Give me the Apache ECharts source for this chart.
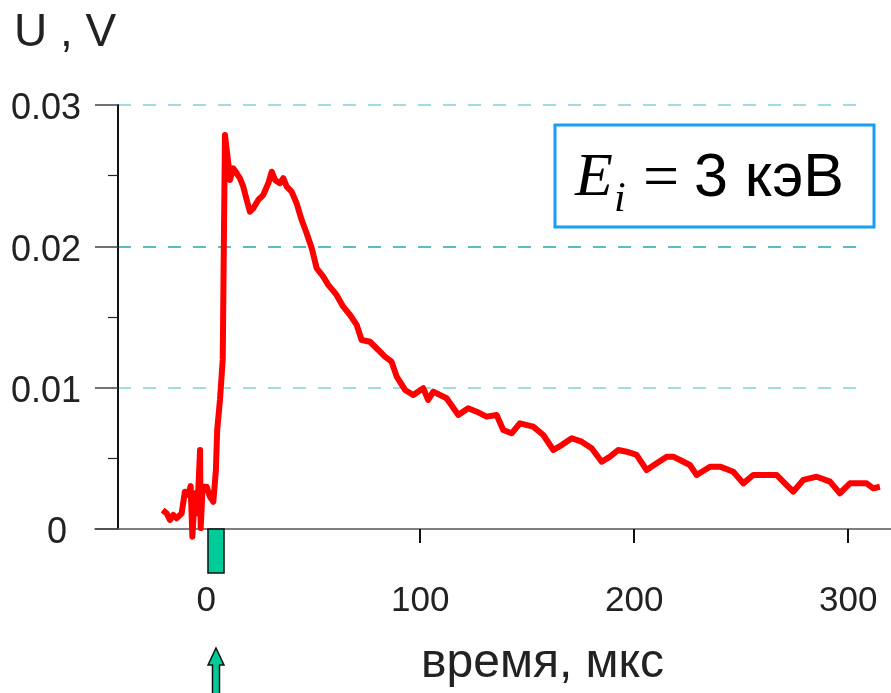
<!DOCTYPE html>
<html><head><meta charset="utf-8">
<script src="https://cdn.jsdelivr.net/npm/echarts@6/dist/echarts.min.js"></script>
<style>html,body{margin:0;padding:0;background:#fff}#c{width:891px;height:693px}</style>
</head><body><div id="c"></div>
<script>
// time, microseconds
const timeUs = [-20.4,-18.5,-17.0,-15.4,-13.8,-11.5,-10.0,-8.4,-7.3,-6.5,-5.3,-4.2,-2.9,-2.6,-1.7,0.2,1.7,3.3,4.5,5.1,6.4,7.7,8.2,8.74,10.3,11.1,12.6,14.2,15.7,17.3,18.9,20.4,22.0,24.3,26.6,29.0,30.6,32.1,34.4,36.0,37.6,39.9,42.2,44.6,46.9,49.3,51.6,54.7,57.0,60.9,64.0,67.2,70.3,72.6,76.5,79.6,83.5,86.6,89.0,92.9,96.7,101.4,103.7,106.1,112.3,117.8,122.4,126.4,131.0,135.7,138.8,142.7,146.6,152.8,157.5,162.2,166.1,170.8,175.4,180.1,184.8,188.7,192.5,196.5,201.1,205.8,210.5,215.2,218.2,221.4,226.0,229.2,235.4,240.1,246.3,251.0,255.6,260.3,266.6,270.4,274.3,279.0,285.3,291.5,296.1,300.8,308.6,311.7,314.8];
// signal, volts
const voltageV = [0.00134,0.00111,0.00064,0.00099,0.00076,0.00111,0.00264,0.00241,0.00304,-0.00054,0.00253,0.00111,0.00559,0.00007,0.00299,0.00299,0.00229,0.00193,0.00417,0.0070,0.00913,0.0120,0.0200,0.02788,0.02588,0.0247,0.02552,0.02517,0.02482,0.02422,0.02328,0.02245,0.02269,0.02328,0.02363,0.02446,0.02528,0.0247,0.02446,0.02482,0.02422,0.02387,0.02305,0.02186,0.02092,0.01986,0.01845,0.01785,0.01727,0.01656,0.01573,0.01514,0.01444,0.01337,0.01325,0.01279,0.01219,0.01184,0.01078,0.00984,0.00948,0.00996,0.00913,0.00972,0.00925,0.00807,0.00854,0.0083,0.00795,0.00807,0.0070,0.00677,0.00748,0.00724,0.00665,0.00559,0.00594,0.00642,0.00618,0.00571,0.00476,0.00512,0.00559,0.00547,0.00524,0.00417,0.00465,0.00512,0.00512,0.00488,0.00453,0.00382,0.00441,0.00441,0.00405,0.00323,0.00382,0.00382,0.00382,0.00323,0.00264,0.00347,0.0037,0.00335,0.00253,0.00323,0.00323,0.00288,0.00299];
const xTickLabels = [0, 100, 200, 300];
const xTickMarks = [100, 200, 300];
const yTickLabels = [0, 0.01, 0.02, 0.03];
const pulseUs = [0.8, 8.3];
const yTitle = 'U , V';
const xTitle = 'время, мкс';
const boxSymbol = 'E';
const boxSub = 'i';
const boxEq = '=';
const boxValue = '3 кэВ';

const SANS = "'Liberation Sans', Arial, sans-serif";
const SERIF = "'Liberation Serif', 'Times New Roman', serif";

const chart = echarts.init(document.getElementById('c'), null, {renderer: 'canvas'});
const seriesData = timeUs.map((t, i) => [t, voltageV[i]]);

chart.setOption({
  animation: false,
  backgroundColor: '#fff',
  grid: [
    {left: 95, right: 0, top: 105, bottom: 164},
    {left: 118, right: 23, top: 105, bottom: 164}
  ],
  xAxis: [
    {
      type: 'value', gridIndex: 0, min: -52, max: 320,
      splitLine: {show: false},
      axisLine: {show: true, onZero: false, lineStyle: {color: '#555', width: 1.5}},
      axisTick: {show: true, customValues: xTickMarks, length: 14, lineStyle: {color: '#111', width: 2}},
      axisLabel: {show: true, customValues: xTickLabels, fontSize: 35, fontFamily: SANS, color: '#222', margin: 55}
    },
    {type: 'value', gridIndex: 1, min: 0, max: 1, show: false}
  ],
  yAxis: [
    {
      type: 'value', gridIndex: 0, min: 0, max: 0.03, interval: 0.01, offset: -23,
      splitLine: {show: false},
      axisLine: {show: true, onZero: false, lineStyle: {color: '#111', width: 2}},
      axisTick: {show: true, length: 23, lineStyle: {color: '#444', width: 1.5}},
      minorTick: {show: true, splitNumber: 2, length: 10, lineStyle: {color: '#222', width: 1.2}},
      axisLabel: {
        show: true, fontSize: 36, fontFamily: SANS, color: '#222', margin: 37,
        padding: [9, 0, 0, 0],
        customValues: yTickLabels,
        formatter: v => v === 0 ? '{z|0}' : v.toFixed(2),
        rich: {z: {fontSize: 36, fontFamily: SANS, color: '#222', padding: [0, 14, 0, 0]}}
      }
    },
    {
      type: 'value', gridIndex: 1, min: 0, max: 0.03, interval: 0.01,
      axisLine: {show: false}, axisTick: {show: false}, axisLabel: {show: false},
      splitLine: {show: true, lineStyle: {type: [13, 12], width: 1.5,
        color: ['rgba(0,0,0,0)', '#7fd3d3', '#22a9b3', '#7fd3d3']}}
    }
  ],
  series: [{
    type: 'line', xAxisIndex: 0, yAxisIndex: 0, data: seriesData,
    showSymbol: false, clip: false, smooth: false,
    lineStyle: {color: '#ff0000', width: 6, join: 'round'}, z: 5
  }]
});

const p0 = chart.convertToPixel({gridIndex: 0}, [pulseUs[0], 0]);
const p1 = chart.convertToPixel({gridIndex: 0}, [pulseUs[1], 0]);
const cx = (p0[0] + p1[0]) / 2;

chart.setOption({
  graphic: [
    {type: 'rect', z: 20, shape: {x: p0[0], y: p0[1], width: p1[0] - p0[0], height: 44},
     style: {fill: '#00cc99', stroke: '#111', lineWidth: 1.5}},
    {type: 'polygon', z: 20, shape: {points: [[cx, 648], [cx + 8, 665], [cx + 3.5, 665], [cx + 3.5, 700], [cx - 3.5, 700], [cx - 3.5, 665], [cx - 8, 665]]},
     style: {fill: '#00cc99', stroke: '#111', lineWidth: 1.5}},
    {type: 'text', z: 20, style: {text: yTitle, x: 14, y: 33, font: '46px ' + SANS, fill: '#222', textVerticalAlign: 'middle'}},
    {type: 'text', z: 20, style: {text: xTitle, x: 421, y: 664, font: '48px ' + SANS, fill: '#222', textVerticalAlign: 'middle'}},
    {type: 'rect', z: 20, shape: {x: 555, y: 125, width: 319, height: 102},
     style: {fill: '#fff', stroke: '#16a0f5', lineWidth: 3}},
    {type: 'text', z: 21, style: {text: boxSymbol, x: 575, y: 179, font: 'italic 62px ' + SERIF, fill: '#000', textVerticalAlign: 'middle'}},
    {type: 'text', z: 21, style: {text: boxSub, x: 614, y: 200, font: 'italic 42px ' + SERIF, fill: '#000', textVerticalAlign: 'middle'}},
    {type: 'text', z: 21, style: {text: boxEq, x: 643, y: 180, font: '64px ' + SERIF, fill: '#000', textVerticalAlign: 'middle'}},
    {type: 'text', z: 21, style: {text: boxValue, x: 694, y: 179, font: '61px ' + SANS, fill: '#000', textVerticalAlign: 'middle'}}
  ]
});
</script>
</body></html>
